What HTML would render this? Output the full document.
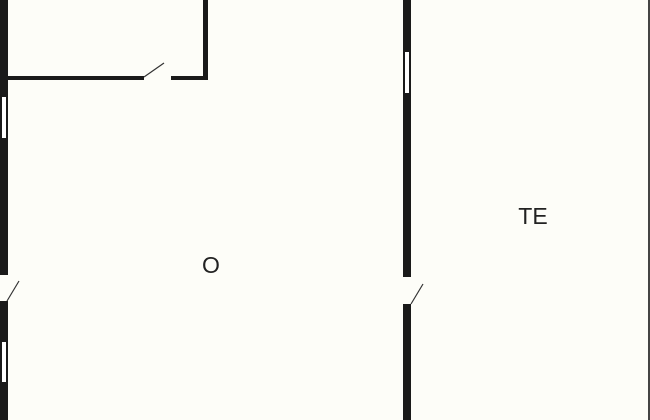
<!DOCTYPE html>
<html><head><style>
html,body{margin:0;padding:0;background:#fdfdf8;}
svg{display:block}
</style></head><body>
<svg width="650" height="420" viewBox="0 0 650 420" xmlns="http://www.w3.org/2000/svg">
<rect width="650" height="420" fill="#fdfdf8"/>
<!-- left wall -->
<rect x="0" y="0" width="8" height="275" fill="#1a1a1a"/>
<rect x="0" y="301" width="8" height="119" fill="#1a1a1a"/>
<rect x="2" y="97" width="4" height="41" fill="#fff"/>
<rect x="2" y="342" width="4" height="40" fill="#fff"/>
<line x1="7" y1="301" x2="19" y2="281" stroke="#333" stroke-width="1.2"/>
<!-- top room -->
<rect x="7" y="76" width="137" height="4" fill="#1a1a1a"/>
<rect x="171" y="76" width="37" height="4" fill="#1a1a1a"/>
<rect x="203" y="0" width="5" height="80" fill="#1a1a1a"/>
<line x1="144" y1="77" x2="164" y2="63" stroke="#333" stroke-width="1.2"/>
<!-- middle wall -->
<rect x="403" y="0" width="8" height="277" fill="#1a1a1a"/>
<rect x="403" y="304" width="8" height="116" fill="#1a1a1a"/>
<rect x="405" y="52" width="4" height="41" fill="#fff"/>
<line x1="411" y1="304" x2="423" y2="284" stroke="#333" stroke-width="1.2"/>
<!-- right edge -->
<rect x="648" y="0" width="2" height="420" fill="#444"/>
<text x="211" y="273" font-family="Liberation Sans, sans-serif" font-size="23" fill="#222" text-anchor="middle">O</text>
<text x="533" y="224" font-family="Liberation Sans, sans-serif" font-size="23" fill="#222" text-anchor="middle">TE</text>
</svg>
</body></html>
